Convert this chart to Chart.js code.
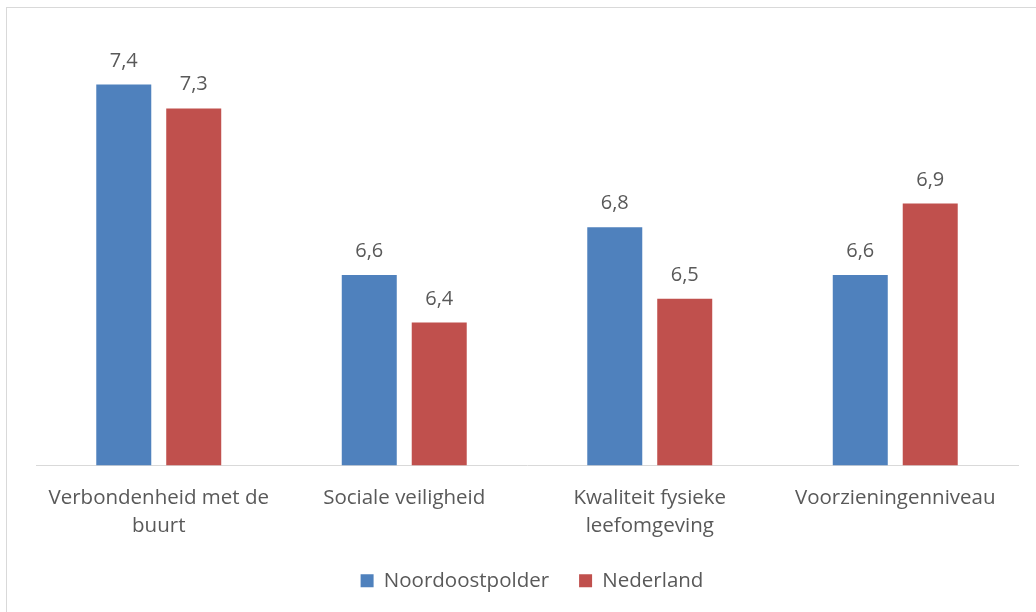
<!DOCTYPE html>
<html>
<head>
<meta charset="utf-8">
<script src="https://cdn.jsdelivr.net/npm/chart.js@4/dist/chart.umd.min.js"></script>
<style>
  html, body { margin: 0; padding: 0; background: #fff; }
  #frame {
    position: absolute; left: 6px; top: 7px; width: 1040px; height: 620px;
    border: 1px solid #d9d9d9; box-sizing: border-box;
  }
  #wrap { position: absolute; left: 0; top: 0; width: 1036px; height: 612px; }
</style>
</head>
<body>
<div id="frame"></div>
<div id="wrap"><canvas id="chart"></canvas></div>
<script>
const categories = [
  ["Verbondenheid met de", "buurt"],
  "Sociale veiligheid",
  ["Kwaliteit fysieke", "leefomgeving"],
  "Voorzieningenniveau",
];
const noordoostpolder = [7.4, 6.6, 6.8, 6.6];
const nederland = [7.3, 6.4, 6.5, 6.9];

const COLORS = { blue: "#4f81bd", red: "#c0504d", text: "#595959", axis: "#d9d9d9" };
const FONT = "'Open Sans', sans-serif";
const LEGEND_SHRINK = 19; // tighter gap above legend than its item spacing
const LEGEND_SHIFT = 5;

// draw value labels above each bar, Dutch decimal comma
const valueLabels = {
  id: "valueLabels",
  afterDatasetsDraw(chart) {
    const ctx = chart.ctx;
    ctx.save();
    ctx.font = `20px ${FONT}`;
    ctx.fillStyle = COLORS.text;
    ctx.textAlign = "center";
    ctx.textBaseline = "alphabetic";
    chart.data.datasets.forEach((ds, i) => {
      chart.getDatasetMeta(i).data.forEach((bar, j) => {
        ctx.fillText(ds.data[j].toFixed(1).replace(".", ","), bar.x, bar.y - 18);
      });
    });
    ctx.restore();
  },
};

// legend padding is used both between items and above them; trim the top part
const legendTweak = {
  id: "legendTweak",
  afterInit(chart) {
    const legend = chart.legend;
    if (!legend) return;
    const fit = legend.fit.bind(legend);
    legend.fit = () => {
      fit();
      legend.height -= LEGEND_SHRINK;
    };
  },
  afterLayout(chart) {
    const legend = chart.legend;
    if (!legend) return;
    legend.top -= LEGEND_SHRINK;
    legend.left += LEGEND_SHIFT;
    legend.right += LEGEND_SHIFT;
  },
};

new Chart(document.getElementById("chart"), {
  type: "bar",
  data: {
    labels: categories,
    datasets: [
      { label: "Noordoostpolder", data: noordoostpolder, backgroundColor: COLORS.blue },
      { label: "Nederland", data: nederland, backgroundColor: COLORS.red },
    ],
  },
  options: {
    responsive: true,
    maintainAspectRatio: false,
    animation: false,
    categoryPercentage: 0.57,
    barPercentage: 0.786,
    layout: { padding: { left: 36, right: 18, top: 37, bottom: 11 } },
    plugins: {
      tooltip: { enabled: false },
      legend: {
        position: "bottom",
        labels: {
          boxWidth: 13,
          boxHeight: 13,
          padding: 30,
          color: COLORS.text,
          font: { family: FONT, size: 20.5 },
        },
      },
    },
    scales: {
      x: {
        grid: { display: false, drawTicks: false },
        border: { color: COLORS.axis, width: 1 },
        ticks: {
          color: COLORS.text,
          padding: 19,
          maxRotation: 0,
          font: { family: FONT, size: 20.5, lineHeight: 1.37 },
        },
      },
      y: {
        display: false,
        min: 5.8,
        max: 7.6,
      },
    },
  },
  plugins: [valueLabels, legendTweak],
});
</script>
</body>
</html>
